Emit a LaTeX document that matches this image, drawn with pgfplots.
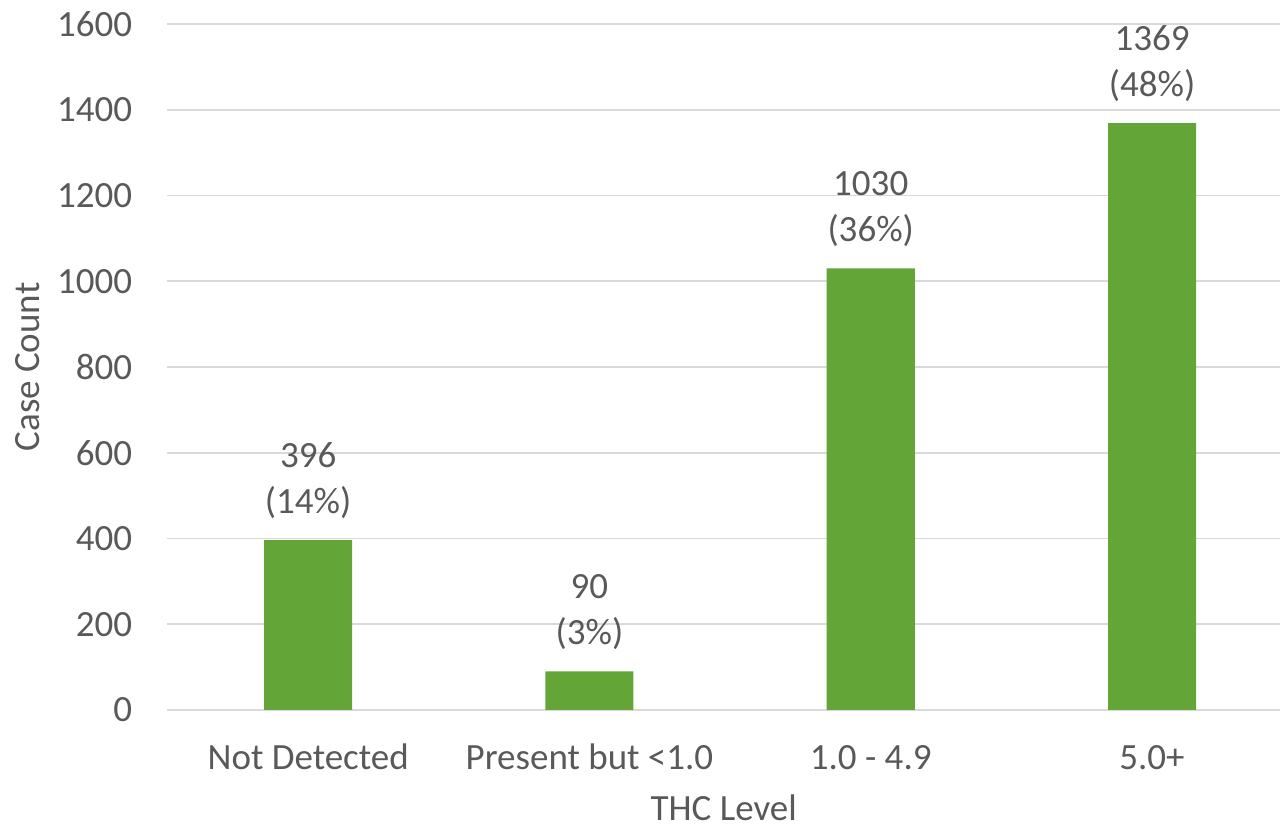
\documentclass[border=0pt]{standalone}
\usepackage{pgfplots}
\pgfplotsset{compat=1.18}
\usepackage{fontspec}
\setmainfont{Carlito}
\definecolor{bargreen}{HTML}{63A537}
\definecolor{txt}{HTML}{595959}
\definecolor{gridc}{HTML}{D9D9D9}
\begin{document}
\begin{tikzpicture}
\begin{axis}[
  at={(0,0)}, anchor=south west,
  scale only axis, width=556.25pt, height=343pt,
  xmin=-0.5, xmax=3.455, ymin=0, ymax=1600,
  clip=false,
  ytick={0,200,...,1600},
  xtick={0,1,2,3},
  xticklabels={Not Detected, Present but <1.0, 1.0 - 4.9, 5.0+},
  major tick length=0pt,
  axis line style={draw=none},
  ymajorgrids, grid style={gridc, line width=0.9pt},
  /pgf/number format/assume math mode=true,
  /pgf/number format/set thousands separator={},
  tick label style={font=\fontsize{18.5}{22}\selectfont, text=txt},
  xticklabel style={anchor=base, inner sep=0pt, yshift=-30pt},
  yticklabel style={anchor=east, inner sep=0pt, xshift=-17.5pt},
  xlabel={THC Level}, ylabel={Case Count},
  label style={font=\fontsize{18.5}{22}\selectfont, text=txt},
  xlabel style={at={(axis description cs:0.5,0)}, anchor=base, inner sep=0pt, yshift=-55.5pt},
  ylabel style={at={(axis description cs:0,0.5)}, anchor=center, inner sep=0pt, yshift=69.75pt},
]
\addplot[ybar, fill=bargreen, draw=none, bar width=0.313,
  visualization depends on={value \thisrow{pct}\as\pct},
  visualization depends on={value \thisrow{y}\as\yv},
  nodes near coords={\yv\\(\pct\%)},
  every node near coord/.append style={align=center, font=\fontsize{18.5}{23}\selectfont, text=txt, anchor=south, inner sep=0pt, yshift=10.5pt},
] table {
x y pct
0 396 14
1 90 3
2 1030 36
3 1369 48
};
\end{axis}
\pgfresetboundingbox
\path[use as bounding box] (-83.75pt,-59.5pt) rectangle (556.25pt,355pt);
\end{tikzpicture}
\end{document}
